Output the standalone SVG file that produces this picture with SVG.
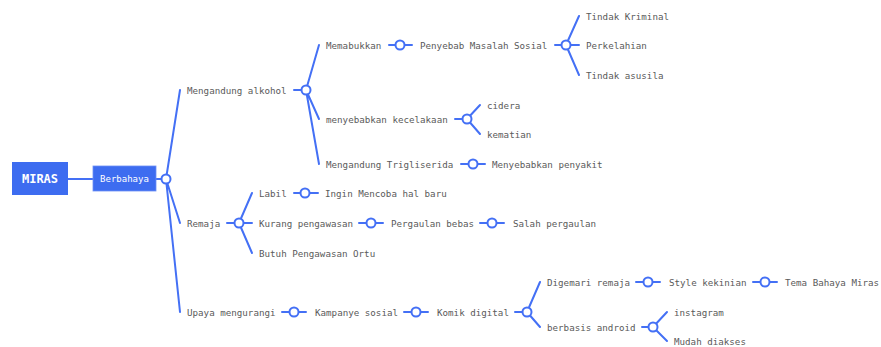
<svg xmlns="http://www.w3.org/2000/svg" width="881" height="347" viewBox="0 0 881 347">
<style>
.t{font-family:"DejaVu Sans Mono","Liberation Mono",monospace;font-size:9.2px;fill:#5a5a5a;dominant-baseline:central}
.c{fill:none;stroke:#4470f5;stroke-width:2;stroke-linecap:round}
.k{fill:#fff;stroke:#4470f5;stroke-width:2}
.box{fill:#3d6cf0}
.bt{font-family:"DejaVu Sans Mono","Liberation Mono",monospace;fill:#fff;dominant-baseline:central;text-anchor:middle}
</style>
<rect width="881" height="347" fill="#fff"/>
<g id="connectors" class="c">
<path d="M68 179H93M156 179H166"/>
<path d="M166 179L180 90M166 179L180 223M166 179L180 312"/>
<path d="M294 90H306M306 90L319 45M306 90L319 119M306 90L319 164"/>
<path d="M389 45H412M555 45H566M566 45L579 16M566 45L579 45M566 45L579 75"/>
<path d="M455 119H467M467 119L480 105M467 119L480 134"/>
<path d="M461 164H485"/>
<path d="M227 223H239M239 223L252 193M239 223L252 223M239 223L252 253"/>
<path d="M294 193H318M359 223H383M480 223H504"/>
<path d="M282 312H306M404 312H428M515 312H527M527 312L540 282M527 312L540 327"/>
<path d="M636 282H660M753 282H777"/>
<path d="M642 327H653M653 327L667 312M653 327L667 341"/>
</g>
<g id="miras"><rect class="box" x="12" y="162" width="56" height="33"/><text class="bt" x="40" y="179" font-size="12" font-weight="bold">MIRAS</text></g>
<g id="berbahaya"><rect class="box" x="93" y="166" width="63" height="25" stroke="#6d90f5" stroke-width="0.8"/><text class="bt" x="124.5" y="179" font-size="9">Berbahaya</text><circle class="k" cx="166" cy="179" r="4.5"/></g>
<g id="alkohol"><text class="t" x="187" y="90">Mengandung alkohol</text><circle class="k" cx="306" cy="90" r="4.5"/></g>
<g id="memabukkan"><text class="t" x="326" y="45">Memabukkan</text><circle class="k" cx="400" cy="45" r="4.5"/></g>
<g id="penyebab"><text class="t" x="420" y="45">Penyebab Masalah Sosial</text><circle class="k" cx="566" cy="45" r="4.5"/></g>
<g id="kriminal"><text class="t" x="586" y="16">Tindak Kriminal</text></g>
<g id="perkelahian"><text class="t" x="586" y="45">Perkelahian</text></g>
<g id="asusila"><text class="t" x="586" y="75">Tindak asusila</text></g>
<g id="kecelakaan"><text class="t" x="326" y="119">menyebabkan kecelakaan</text><circle class="k" cx="467" cy="119" r="4.5"/></g>
<g id="cidera"><text class="t" x="487" y="105">cidera</text></g>
<g id="kematian"><text class="t" x="487" y="134">kematian</text></g>
<g id="trigliserida"><text class="t" x="326" y="164">Mengandung Trigliserida</text><circle class="k" cx="473" cy="164" r="4.5"/></g>
<g id="penyakit"><text class="t" x="492" y="164">Menyebabkan penyakit</text></g>
<g id="remaja"><text class="t" x="187" y="223">Remaja</text><circle class="k" cx="239" cy="223" r="4.5"/></g>
<g id="labil"><text class="t" x="259" y="193">Labil</text><circle class="k" cx="305" cy="193" r="4.5"/></g>
<g id="ingin"><text class="t" x="325" y="193">Ingin Mencoba hal baru</text></g>
<g id="kurang"><text class="t" x="259" y="223">Kurang pengawasan</text><circle class="k" cx="371" cy="223" r="4.5"/></g>
<g id="pergaulan"><text class="t" x="391" y="223">Pergaulan bebas</text><circle class="k" cx="492" cy="223" r="4.5"/></g>
<g id="salah"><text class="t" x="513" y="223">Salah pergaulan</text></g>
<g id="butuh"><text class="t" x="259" y="253">Butuh Pengawasan Ortu</text></g>
<g id="upaya"><text class="t" x="187" y="312">Upaya mengurangi</text><circle class="k" cx="294" cy="312" r="4.5"/></g>
<g id="kampanye"><text class="t" x="315" y="312">Kampanye sosial</text><circle class="k" cx="416" cy="312" r="4.5"/></g>
<g id="komik"><text class="t" x="437" y="312">Komik digital</text><circle class="k" cx="527" cy="312" r="4.5"/></g>
<g id="digemari"><text class="t" x="547" y="282">Digemari remaja</text><circle class="k" cx="648" cy="282" r="4.5"/></g>
<g id="style"><text class="t" x="669" y="282">Style kekinian</text><circle class="k" cx="765" cy="282" r="4.5"/></g>
<g id="tema"><text class="t" x="785" y="282">Tema Bahaya Miras</text></g>
<g id="android"><text class="t" x="547" y="327">berbasis android</text><circle class="k" cx="653" cy="327" r="4.5"/></g>
<g id="instagram"><text class="t" x="674" y="312">instagram</text></g>
<g id="mudah"><text class="t" x="674" y="341">Mudah diakses</text></g>
</svg>
